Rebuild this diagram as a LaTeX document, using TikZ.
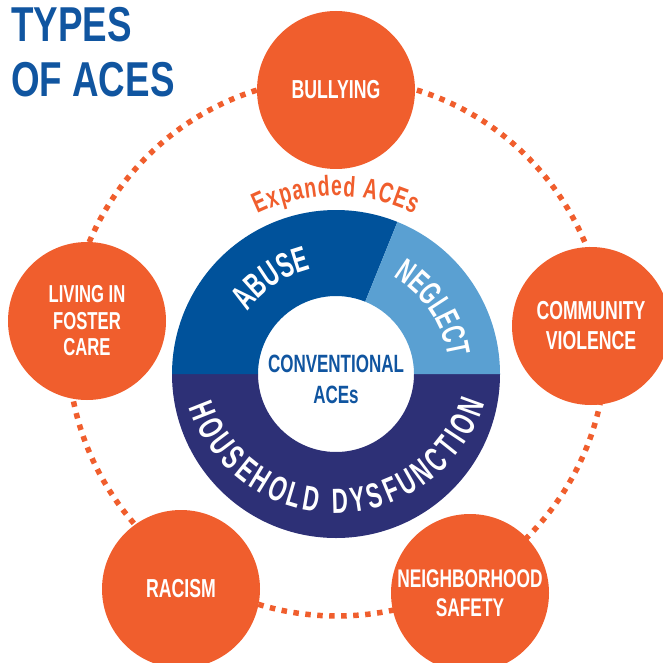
\documentclass[tikz,border=0pt]{standalone}
\usepackage{fontspec}
\setmainfont{Liberation Sans}
\newfontfamily\condfont[FakeStretch=0.68]{Liberation Sans}
\newfontfamily\ringfont[FakeStretch=0.64]{Liberation Sans}
\newfontfamily\titlefont[FakeStretch=0.75]{Liberation Sans}
\usetikzlibrary{calc,decorations.text}

\definecolor{aceorange}{RGB}{240,94,45}
\definecolor{abuseblue}{RGB}{0,82,155}
\definecolor{neglectblue}{RGB}{90,160,210}
\definecolor{hhnavy}{RGB}{45,48,118}
\definecolor{titleblue}{RGB}{16,85,160}

\begin{document}
\begin{tikzpicture}[x=1pt,y=1pt,
  ace/.style={circle, fill=aceorange, minimum size=158pt, inner sep=0pt,
    text=white, align=center,
    font=\condfont\bfseries\fontsize{26}{30}\selectfont},
  titletext/.style={anchor=base west, inner sep=0pt, text=titleblue,
    font=\titlefont\bfseries\fontsize{49}{55}\selectfont},
  ringtext/.style={decorate, decoration={text along path,
    text align={fit to path}}},
  dotring/.style={aceorange, line width=5.5pt, dash pattern=on 5.5pt off 6.5pt}
]
\useasboundingbox (0,0) rectangle (662,-663);

% centres of the ring, the outer dotted circle and the lower label arc
\coordinate (rc) at (336,-374);
\coordinate (dc) at (337,-347);
\coordinate (hc) at (336,-358);

% dotted circle linking the expanded ACEs
\draw[dotring] (dc) circle[radius=269];

% conventional ACEs ring
\fill[hhnavy] ($(rc)+(180:164)$) arc[start angle=180, end angle=360, radius=164]
  -- ($(rc)+(0:78)$) arc[start angle=360, end angle=180, radius=78] -- cycle;
\fill[abuseblue] ($(rc)+(180:164)$) arc[start angle=180, end angle=68, radius=164]
  -- ($(rc)+(68:78)$) arc[start angle=68, end angle=180, radius=78] -- cycle;
\fill[neglectblue] ($(rc)+(68:164)$) arc[start angle=68, end angle=0, radius=164]
  -- ($(rc)+(0:78)$) arc[start angle=0, end angle=68, radius=78] -- cycle;

% curved labels
\path[ringtext, decoration={text color=white,
    text={|\ringfont\bfseries\fontsize{35}{35}\selectfont|ABUSE}}]
  ($(rc)+(145:108)$) arc[start angle=145, end angle=103.5, radius=108];
\path[ringtext, decoration={text color=white,
    text={|\ringfont\bfseries\fontsize{33}{33}\selectfont|NEGLECT}}]
  ($(rc)+(59.5:113)$) arc[start angle=59.5, end angle=8.8, radius=113];
\path[ringtext, decoration={text color=white,
    text={|\ringfont\bfseries\fontsize{35}{35}\selectfont|HOUSEHOLD DYSFUNCTION}}]
  ($(hc)+(198.6:155)$) arc[start angle=198.6, end angle=343.1, radius=155];
\path[ringtext, decoration={text color=aceorange,
    text={|\condfont\bfseries\fontsize{28.5}{28.5}\selectfont|Expanded ACEs}}]
  ($(rc)+(116:178)$) arc[start angle=116, end angle=64, radius=178];

\node[text=titleblue, align=center,
  font=\condfont\bfseries\fontsize{25}{31}\selectfont] (conv) at (336,-379.5)
  {CONVENTIONAL\\ACEs};

% expanded ACEs
\node[ace] (bully) at (336,-90) {BULLYING};
\node[ace] (comm) at (591,-326) {COMMUNITY\\VIOLENCE};
\node[ace, font=\condfont\bfseries\fontsize{25.5}{29.5}\selectfont] (nbhd) at (470,-593) {NEIGHBORHOOD\\SAFETY};
\node[ace] (racism) at (181,-589) {RACISM};
\node[ace, font=\condfont\bfseries\fontsize{24.5}{26.5}\selectfont] (foster) at (87,-321) {LIVING IN\\FOSTER\\CARE};

% heading
\node[titletext] (title1) at (11,-42) {TYPES};
\node[titletext] (title2) at (11,-97) {OF ACES};
\end{tikzpicture}
\end{document}
